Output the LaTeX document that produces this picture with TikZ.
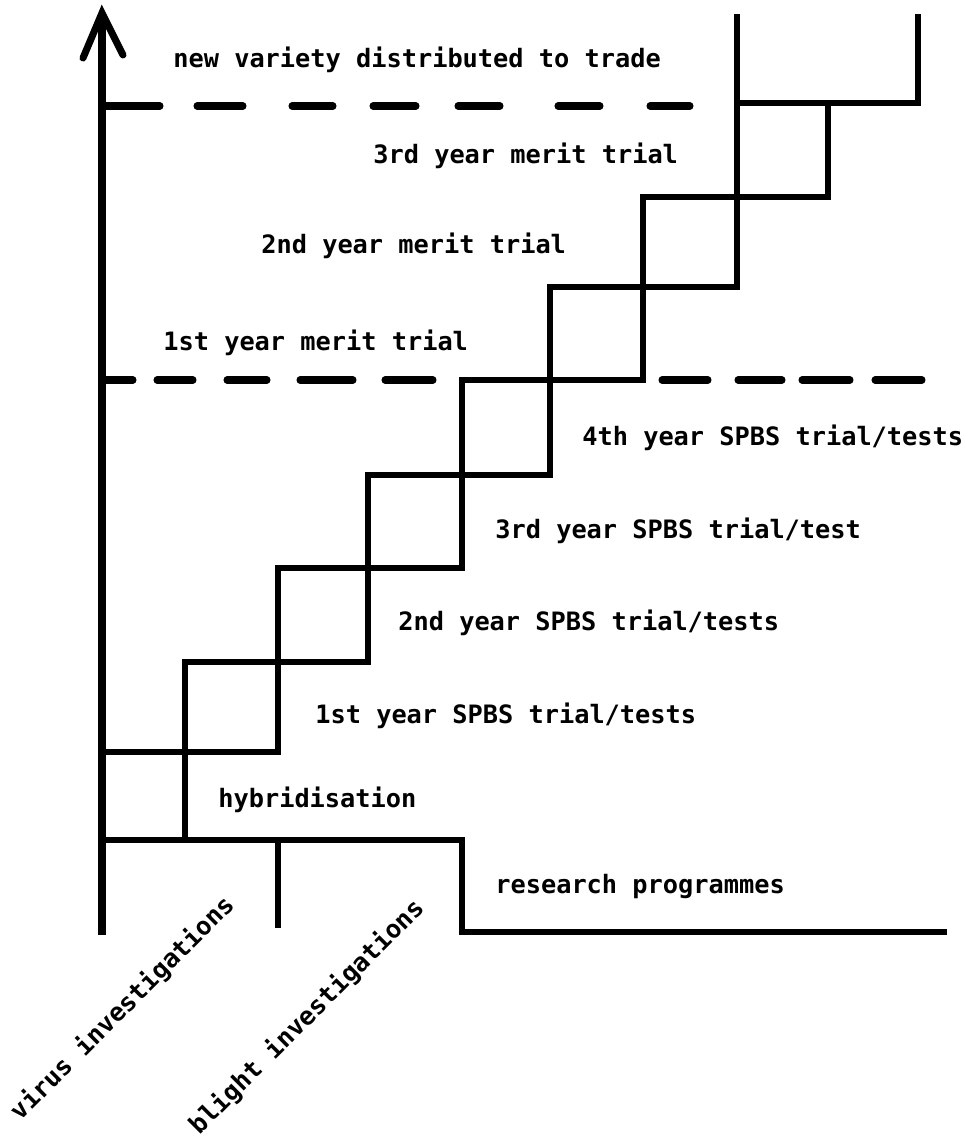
\documentclass[tikz,border=0pt]{standalone}
\usepackage{fontspec}
\setmonofont{DejaVu Sans Mono}
\usepackage{tikz}

\begin{document}
\begin{tikzpicture}[x=0.02cm, y=-0.02cm,
    axisline/.style={line width=4pt},
    stair/.style={line width=3.5pt, line join=miter},
    dashline/.style={line width=4pt, line cap=round},
    phase/.style={font=\ttfamily\bfseries\fontsize{14.4}{17}\selectfont, anchor=base west, inner sep=0pt}]

\useasboundingbox (0,0) rectangle (964,1143);

% Zeitachse mit offener Spitze
\draw[axisline] (102,935) -- (102,14);
\draw[axisline, line cap=round, line join=miter] (83,58) -- (102,13) -- (123,55);

% Gestrichelte Grenzen
\foreach \a/\b in {102/160, 197/243, 292/333, 373/416, 458/500, 558/600, 650/690} {
    \draw[dashline] (\a,106) -- (\b,106);
}
\foreach \a/\b in {102/133, 157/193, 227/267, 300/353, 385/433, 662/708, 738/782, 802/850, 875/922} {
    \draw[dashline] (\a,380) -- (\b,380);
}

% Erste Treppe
\draw[stair] (185,840) -- (185,662) -- (368,662) -- (368,475) -- (550,475)
             -- (550,287) -- (737,287) -- (737,14);

% Zweite Treppe
\draw[stair] (102,752) -- (278,752) -- (278,568) -- (462,568) -- (462,380)
             -- (643,380) -- (643,197) -- (828,197) -- (828,103) -- (918,103) -- (918,14);
\draw[stair] (737,103) -- (828,103);

% Forschung unten
\draw[stair] (102,840) -- (462,840) -- (462,932) -- (947,932);
\draw[stair] (278,840) -- (278,928);

% Beschriftungen
\node[phase] (trade) at (173,67) {new variety distributed to trade};
\node[phase] (merit3) at (373,163) {3rd year merit trial};
\node[phase] (merit2) at (261,253) {2nd year merit trial};
\node[phase] (merit1) at (163,350) {1st year merit trial};
\node[phase] (spbs4) at (582,445) {4th year SPBS trial/tests};
\node[phase] (spbs3) at (495,538) {3rd year SPBS trial/test};
\node[phase] (spbs2) at (398,630) {2nd year SPBS trial/tests};
\node[phase] (spbs1) at (315,723) {1st year SPBS trial/tests};
\node[phase] (hybrid) at (218,807) {hybridisation};
\node[phase] (research) at (495,893) {research programmes};
\node[phase, rotate=45] (virus) at (20,1122) {virus investigations};
\node[phase, rotate=45] (blight) at (199,1136) {blight investigations};

\end{tikzpicture}
\end{document}
